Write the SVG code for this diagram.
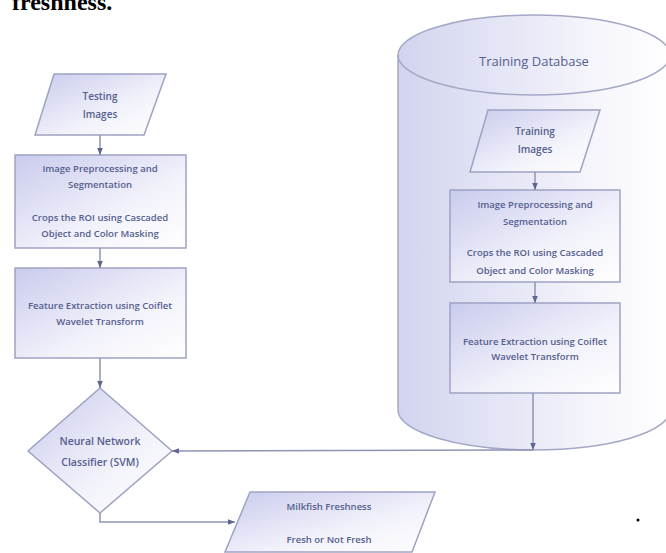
<svg xmlns="http://www.w3.org/2000/svg" width="666" height="553" viewBox="0 0 666 553">
<defs>
<linearGradient id="g" x1="0" y1="0" x2="1" y2="1">
<stop offset="0" stop-color="#c9cbed"/>
<stop offset="0.6" stop-color="#f2f2fb"/>
<stop offset="1" stop-color="#ffffff"/>
</linearGradient>
<linearGradient id="gc" x1="0" y1="0" x2="1" y2="0">
<stop offset="0" stop-color="#d2d4ef"/>
<stop offset="0.7" stop-color="#f4f4fb"/>
<stop offset="1" stop-color="#ffffff"/>
</linearGradient>
<marker id="ah" viewBox="0 0 10 10" refX="10" refY="5" markerWidth="5" markerHeight="5" orient="auto">
<path d="M0,1 L10,5 L0,9 z" fill="#5d6590"/>
</marker>
<style>
.n{fill:url(#g);stroke:#9ea3c2;stroke-width:1.5}
.t{font-family:"Open Sans","Liberation Sans",sans-serif;fill:#55608e;text-anchor:middle;font-size:9.5px;font-weight:600}
.c{fill:none;stroke:#8e94b6;stroke-width:1.5;marker-end:url(#ah)}
</style>
</defs>
<rect width="666" height="553" fill="#ffffff"/>
<text x="12" y="10" font-family="Liberation Serif,serif" font-weight="bold" font-size="24" fill="#000">freshness.</text>

<g id="db">
<path d="M398,55 L398,410 A136,40 0 0 0 670,410 L670,55 A136,40 0 0 0 398,55 Z" fill="url(#gc)" stroke="#a4a8c6" stroke-width="1.5"/>
<path d="M398,55 A136,40 0 0 0 670,55" fill="none" stroke="#a4a8c6" stroke-width="1.5"/>
<text class="t" x="534" y="66" style="font-size:13px;font-weight:400">Training Database</text>
</g>

<g id="testing">
<polygon class="n" points="54,74 166,74 144,135 35,135"/>
<text class="t" x="100" y="100" style="font-size:10px">Testing</text>
<text class="t" x="100" y="118" style="font-size:10px">Images</text>
</g>

<g id="prep1">
<rect class="n" x="15" y="155" width="171" height="93"/>
<text class="t" x="100" y="172">Image Preprocessing and</text>
<text class="t" x="100" y="188">Segmentation</text>
<text class="t" x="100" y="221">Crops the ROI using Cascaded</text>
<text class="t" x="100" y="237">Object and Color Masking</text>
</g>

<g id="feat1">
<rect class="n" x="15" y="268" width="171" height="90"/>
<text class="t" x="100" y="309">Feature Extraction using Coiflet</text>
<text class="t" x="100" y="325">Wavelet Transform</text>
</g>

<g id="classifier">
<polygon class="n" points="100,388 172,451 100,513 28,451"/>
<text class="t" x="100" y="445" style="font-size:10.5px">Neural Network</text>
<text class="t" x="100" y="466" style="font-size:10.5px">Classifier (SVM)</text>
</g>

<g id="training">
<polygon class="n" points="488,110 600,110 580,172 470,172"/>
<text class="t" x="535" y="135" style="font-size:10px">Training</text>
<text class="t" x="535" y="153" style="font-size:10px">Images</text>
</g>

<g id="prep2">
<rect class="n" x="450" y="190" width="170" height="92"/>
<text class="t" x="535" y="208">Image Preprocessing and</text>
<text class="t" x="535" y="225">Segmentation</text>
<text class="t" x="535" y="256">Crops the ROI using Cascaded</text>
<text class="t" x="535" y="274">Object and Color Masking</text>
</g>

<g id="feat2">
<rect class="n" x="450" y="303" width="170" height="90"/>
<text class="t" x="535" y="345">Feature Extraction using Coiflet</text>
<text class="t" x="535" y="360">Wavelet Transform</text>
</g>

<g id="output">
<polygon class="n" points="250,492 435,492 412,552 225,552"/>
<text class="t" x="329" y="510">Milkfish Freshness</text>
<text class="t" x="329" y="543">Fresh or Not Fresh</text>
</g>

<g id="connectors">
<path class="c" d="M100,135 L100,155"/>
<path class="c" d="M100,248 L100,268"/>
<path class="c" d="M100,358 L100,388"/>
<path class="c" d="M535,172 L535,190"/>
<path class="c" d="M535,282 L535,303"/>
<path class="c" d="M533,393 L533,450"/>
<path class="c" d="M533,450 L172,451"/>
<path class="c" d="M100,513 L100,522 L235,522"/>
</g>

<circle cx="638" cy="520" r="1.5" fill="#000"/>
</svg>
